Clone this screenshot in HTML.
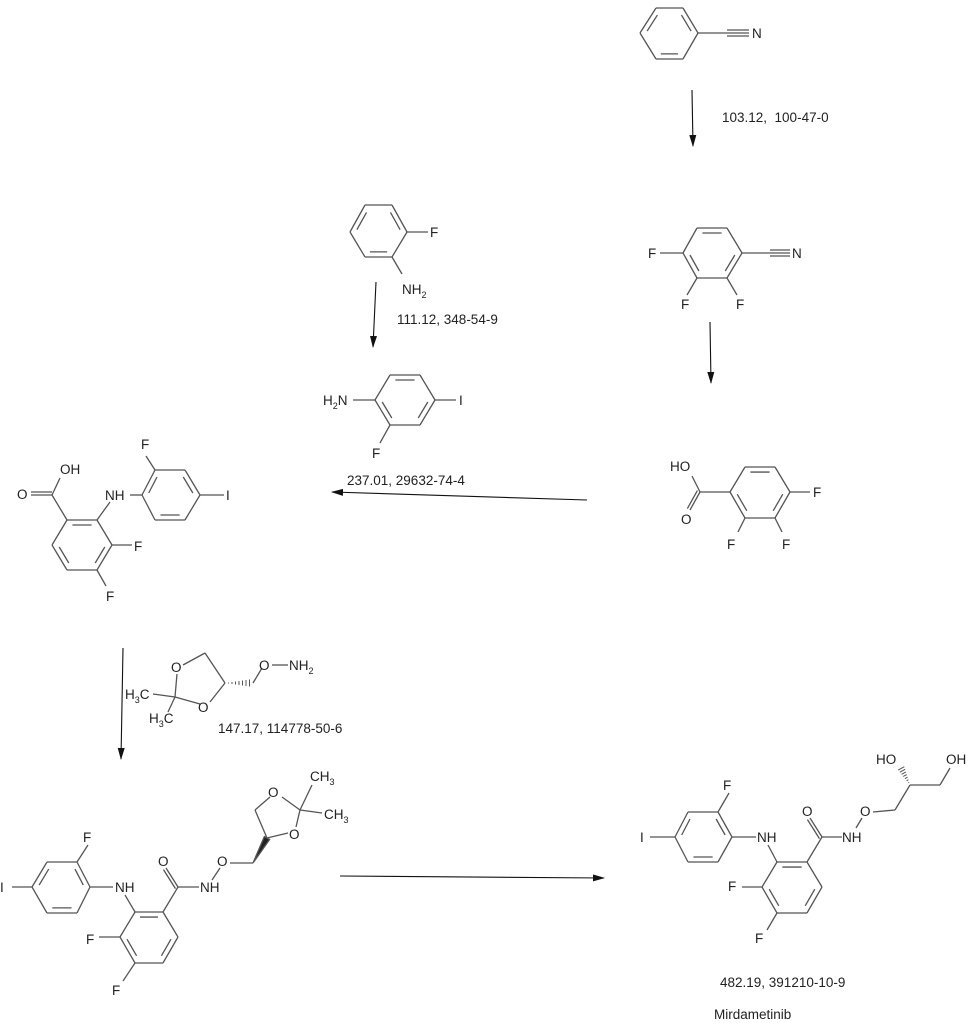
<!DOCTYPE html>
<html><head><meta charset="utf-8"><style>
html,body{margin:0;padding:0;background:#fff;}
svg{display:block}
text{font-family:"Liberation Sans",Arial,sans-serif;font-size:13.5px;fill:#222}
.s{font-size:9px}
</style></head><body>
<svg id="g" width="969" height="1023" viewBox="0 0 969 1023" xmlns="http://www.w3.org/2000/svg">
<defs><marker id="ah" markerWidth="12" markerHeight="8" refX="11" refY="3.5" orient="auto" markerUnits="userSpaceOnUse"><path d="M0,0 L12,3.5 L0,7 Z" fill="#111"/></marker></defs>
<g id="L" stroke="#555" stroke-width="1.3" fill="none"></g>
<g stroke="#111" stroke-width="1.1" fill="none">
<line x1="692" y1="90" x2="693" y2="146" marker-end="url(#ah)"/>
<line x1="710" y1="322" x2="711" y2="383" marker-end="url(#ah)"/>
<line x1="376" y1="282" x2="373" y2="347" marker-end="url(#ah)"/>
<line x1="587" y1="500" x2="332" y2="492" marker-end="url(#ah)"/>
<line x1="123" y1="648" x2="121" y2="759" marker-end="url(#ah)"/>
<line x1="340" y1="876" x2="604" y2="878" marker-end="url(#ah)"/>
</g>
<text x="752" y="38">N</text>
<text x="722" y="122">103.12,&#160; 100-47-0</text>
<text x="648" y="258">F</text><text x="792" y="258">N</text>
<text x="681" y="309">F</text><text x="736" y="309">F</text>
<text x="430" y="237">F</text>
<text x="402" y="294">NH<tspan class="s" dy="4">2</tspan></text>
<text x="397" y="324">111.12, 348-54-9</text>
<text x="323" y="405">H<tspan class="s" dy="4">2</tspan><tspan dy="-4">N</tspan></text>
<text x="459" y="405">I</text><text x="372" y="458">F</text>
<text x="347" y="485">237.01, 29632-74-4</text>
<text x="670" y="471">HO</text><text x="681" y="524">O</text>
<text x="813" y="497">F</text><text x="727" y="549">F</text><text x="782" y="549">F</text>
<text x="60" y="474">OH</text><text x="17" y="499">O</text>
<text x="105" y="500">NH</text><text x="141" y="449">F</text><text x="226" y="500">I</text>
<text x="134" y="551">F</text><text x="106" y="601">F</text>
<text x="171" y="672">O</text><text x="198" y="712">O</text>
<text x="259" y="670">O</text><text x="289" y="670">NH<tspan class="s" dy="4">2</tspan></text>
<text x="125" y="699">H<tspan class="s" dy="4">3</tspan><tspan dy="-4">C</tspan></text>
<text x="149" y="723">H<tspan class="s" dy="4">3</tspan><tspan dy="-4">C</tspan></text>
<text x="218" y="733">147.17, 114778-50-6</text>
<text x="0" y="892">I</text><text x="83" y="842">F</text><text x="115" y="892">NH</text>
<text x="86" y="944">F</text><text x="112" y="995">F</text>
<text x="158" y="866">O</text><text x="200" y="892">NH</text><text x="217" y="866">O</text>
<text x="268" y="797">O</text><text x="289" y="839">O</text>
<text x="310" y="781">CH<tspan class="s" dy="4">3</tspan></text>
<text x="324" y="819">CH<tspan class="s" dy="4">3</tspan></text>
<text x="640" y="842">I</text><text x="723" y="790">F</text><text x="757" y="842">NH</text>
<text x="728" y="891">F</text><text x="755" y="943">F</text>
<text x="802" y="816">O</text><text x="842" y="842">NH</text><text x="860" y="816">O</text>
<text x="876" y="764">HO</text><text x="946" y="764">OH</text>
<text x="720" y="987">482.19, 391210-10-9</text>
<text x="714" y="1019">Mirdametinib</text>
</svg>
<script>
var L=document.getElementById('L'),NS='http://www.w3.org/2000/svg';
function ln(a,b,c,d,w){var e=document.createElementNS(NS,'line');e.setAttribute('x1',a);e.setAttribute('y1',b);e.setAttribute('x2',c);e.setAttribute('y2',d);if(w)e.setAttribute('stroke-width',w);L.appendChild(e);}
function ring(p,dbl){var cx=0,cy=0;p.forEach(function(q){cx+=q[0];cy+=q[1];});cx/=6;cy/=6;
for(var i=0;i<6;i++){var a=p[i],b=p[(i+1)%6];ln(a[0],a[1],b[0],b[1]);
if(dbl.indexOf(i)>=0){var f=0.2;var ax=a[0]+(cx-a[0])*f,ay=a[1]+(cy-a[1])*f,bx=b[0]+(cx-b[0])*f,by=b[1]+(cy-b[1])*f;
var dx=bx-ax,dy=by-ay;ln(ax+dx*.1,ay+dy*.1,bx-dx*.1,by-dy*.1);}}}
function dbl(a,b,c,d,o){var dx=c-a,dy=d-b,l=Math.hypot(dx,dy),nx=-dy/l*o,ny=dx/l*o;ln(a,b,c,d);ln(a+nx,b+ny,c+nx,d+ny);}
function tri(a,b,c,d){var dx=c-a,dy=d-b,l=Math.hypot(dx,dy),nx=-dy/l*3,ny=dx/l*3;ln(a,b,c,d);ln(a+nx,b+ny,c+nx,d+ny);ln(a-nx,b-ny,c-nx,d-ny);}
function hash(a,b,c,d){var dx=c-a,dy=d-b,l=Math.hypot(dx,dy),nx=-dy/l,ny=dx/l;for(var i=1;i<=7;i++){var t=i/8,w=t*4,x=a+dx*t,y=b+dy*t;ln(x-nx*w,y-ny*w,x+nx*w,y+ny*w,1);}}
function wedge(a,b,c,d){var dx=c-a,dy=d-b,l=Math.hypot(dx,dy),nx=-dy/l*3,ny=dx/l*3;var e=document.createElementNS(NS,'polygon');e.setAttribute('points',a+','+b+' '+(c+nx)+','+(d+ny)+' '+(c-nx)+','+(d-ny));e.setAttribute('fill','#222');L.appendChild(e);}
ring([[640,33],[656,8],[683,8],[698,33],[683,59],[656,59]],[0,2,4]);
ln(698,33,727,33);tri(727,33,749,33);
ring([[683,253],[697,228],[727,228],[742,253],[727,278],[697,278]],[1,3,5]);
ln(683,253,660,253);ln(742,253,770,253);tri(770,253,790,253);
ln(697,278,687,295);ln(727,278,737,295);
ring([[350,232],[365,205],[392,205],[407,232],[392,257],[365,257]],[0,2,4]);
ln(407,232,428,232);ln(392,257,402,274);
ring([[375,400],[390,375],[420,375],[435,400],[420,425],[390,425]],[1,3,5]);
ln(375,400,353,400);ln(435,400,456,400);ln(390,425,380,443);
ring([[730,492],[745,467],[775,467],[790,492],[775,518],[745,518]],[1,3,5]);
ln(790,492,810,492);ln(730,492,700,492);ln(700,492,692,476);dbl(700,492,690,510,3);
ln(745,518,738,532);ln(775,518,782,532);
ring([[52,545],[67,520],[97,520],[112,545],[97,570],[67,570]],[1,3,5]);
ln(67,520,52,495);ln(52,495,60,478);dbl(52,495,31,495,3);
ln(97,520,110,502);ln(112,545,132,545);ln(97,570,106,586);
ring([[142,495],[155,470],[185,470],[200,495],[185,520],[155,520]],[0,2,4]);
ln(130,495,142,495);ln(155,470,146,456);ln(200,495,224,495);
ln(183,665,205,653);ln(205,653,225,683);ln(225,683,210,702);ln(200,704,175,697);ln(175,697,177,674);
ln(175,697,153,694);ln(175,697,168,712);hash(225,683,253,683);ln(253,683,262,668);ln(272,665,288,665);
ring([[32,887],[47,862],[77,862],[90,887],[77,913],[47,913]],[0,2,4]);
ln(32,887,12,887);ln(77,862,88,845);ln(90,887,113,887);
ring([[120,937],[135,912],[163,912],[178,937],[163,963],[135,963]],[1,3,5]);
ln(125,895,135,912);ln(120,937,99,937);ln(135,963,123,981);
ln(163,912,178,887);dbl(178,887,166,868,-3);ln(178,887,199,887);ln(212,880,220,868);
ln(230,863,253,863);wedge(253,863,267,838);
ln(267,838,255,810);ln(255,810,270,797);ln(282,797,300,810);ln(300,810,296,827);ln(288,833,267,838);
ln(300,810,312,785);ln(300,810,322,813);
ring([[675,837],[688,812],[718,812],[732,837],[718,862],[688,862]],[0,2,4]);
ln(675,837,650,837);ln(718,812,729,793);ln(732,837,756,837);
ring([[762,887],[777,862],[807,862],[822,887],[807,913],[777,913]],[1,3,5]);
ln(768,845,777,862);ln(762,887,742,887);ln(777,913,767,930);
ln(807,862,822,837);dbl(822,837,810,818,-3);ln(822,837,842,837);ln(856,828,862,818);
ln(873,812,895,810);ln(895,810,910,785);hash(910,785,900,766);ln(910,785,940,785);ln(940,785,950,768);
</script>
</body></html>
